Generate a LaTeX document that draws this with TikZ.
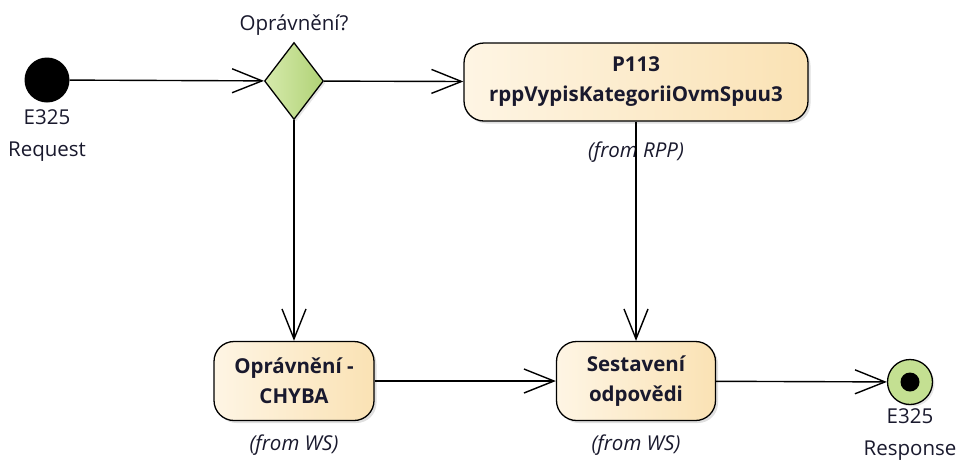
\documentclass[tikz,border=0pt]{standalone}
\usepackage{fontspec}
\setmainfont{Open Sans}
\usetikzlibrary{shapes.geometric,arrows.meta,shadows,positioning}
\definecolor{ink}{RGB}{25,25,45}
\definecolor{actionLeft}{RGB}{254,245,228}
\definecolor{actionRight}{RGB}{250,226,180}
\definecolor{decisionLeft}{RGB}{214,234,172}
\definecolor{decisionRight}{RGB}{176,210,118}
\definecolor{endGreen}{RGB}{196,224,146}
\tikzset{every mark/.append style={scale=0.5}}

\begin{document}
\begin{tikzpicture}
[x=1pt,y=-1pt,
  font=\fontsize{20.5}{32}\selectfont,
  lineDecorate/.style={-{Straight Barb[length=30pt,width=24pt,line width=1.4pt]},line width=1.4pt,draw=black},%
  startDecorate/.style={shape=circle,minimum size=45pt,inner sep=0pt,fill=black},
  endDecorate/.style={shape=circle,minimum size=45pt,inner sep=0pt,draw=black,line width=1.3pt,fill=endGreen,
    drop shadow={opacity=0.2,shadow xshift=2pt,shadow yshift=-2pt},
    path picture={\fill[black] (path picture bounding box.center) circle (9.5pt);}},
  decisionDecorate/.style={shape=diamond,minimum width=59pt,minimum height=77pt,inner sep=0pt,draw=black,line width=1.3pt,
    left color=decisionLeft,right color=decisionRight,
    drop shadow={opacity=0.2,shadow xshift=2pt,shadow yshift=-2pt}},
  actionDecorate/.style={shape=rectangle,rounded corners=20pt,draw=black,line width=1.3pt,align=center,
    font=\fontsize{20.5}{30}\selectfont\bfseries,text=ink,left color=actionLeft,right color=actionRight,
    drop shadow={opacity=0.25,shadow xshift=2.5pt,shadow yshift=-2.5pt}},
  labelDecorate/.style={text=ink,align=center,inner sep=1pt},
  noteDecorate/.style={text=ink,font=\fontsize{20.5}{30}\selectfont\itshape,inner sep=1pt}]
\useasboundingbox (0,0) rectangle (963,459);
%% nodes or vertices
\node (request) at (47,80) [startDecorate] {};
\node (check) at (294,81) [decisionDecorate] {};
\node (p113) at (636,82) [actionDecorate,minimum width=344pt,minimum height=78pt] {P113\\rppVypisKategoriiOvmSpuu3};
\node (error) at (294,381) [actionDecorate,minimum width=160pt,minimum height=79pt] {Oprávnění -\\CHYBA};
\node (reply) at (636,381) [actionDecorate,minimum width=159pt,minimum height=79pt] {Sestavení\\odpovědi};
\node (response) at (910,382) [endDecorate] {};
%% labels
\node (requestLabel) at (47,136) [labelDecorate] {E325\\Request};
\node (checkLabel) at (294,25) [labelDecorate] {Oprávnění?};
\node (responseLabel) at (910,435) [labelDecorate] {E325\\Response};
\node (p113Note) [noteDecorate,below=19pt of p113] {(from RPP)};
\node (errorNote) [noteDecorate,below=12pt of error] {(from WS)};
\node (replyNote) [noteDecorate,below=12pt of reply] {(from WS)};
%% edges or lines
\path
\foreach \startnode/\endnode in {
  request/check, check/p113, check/error, p113/reply, error/reply, reply/response}
{
  (\startnode) edge[lineDecorate] (\endnode)
};
\end{tikzpicture}
\end{document}
